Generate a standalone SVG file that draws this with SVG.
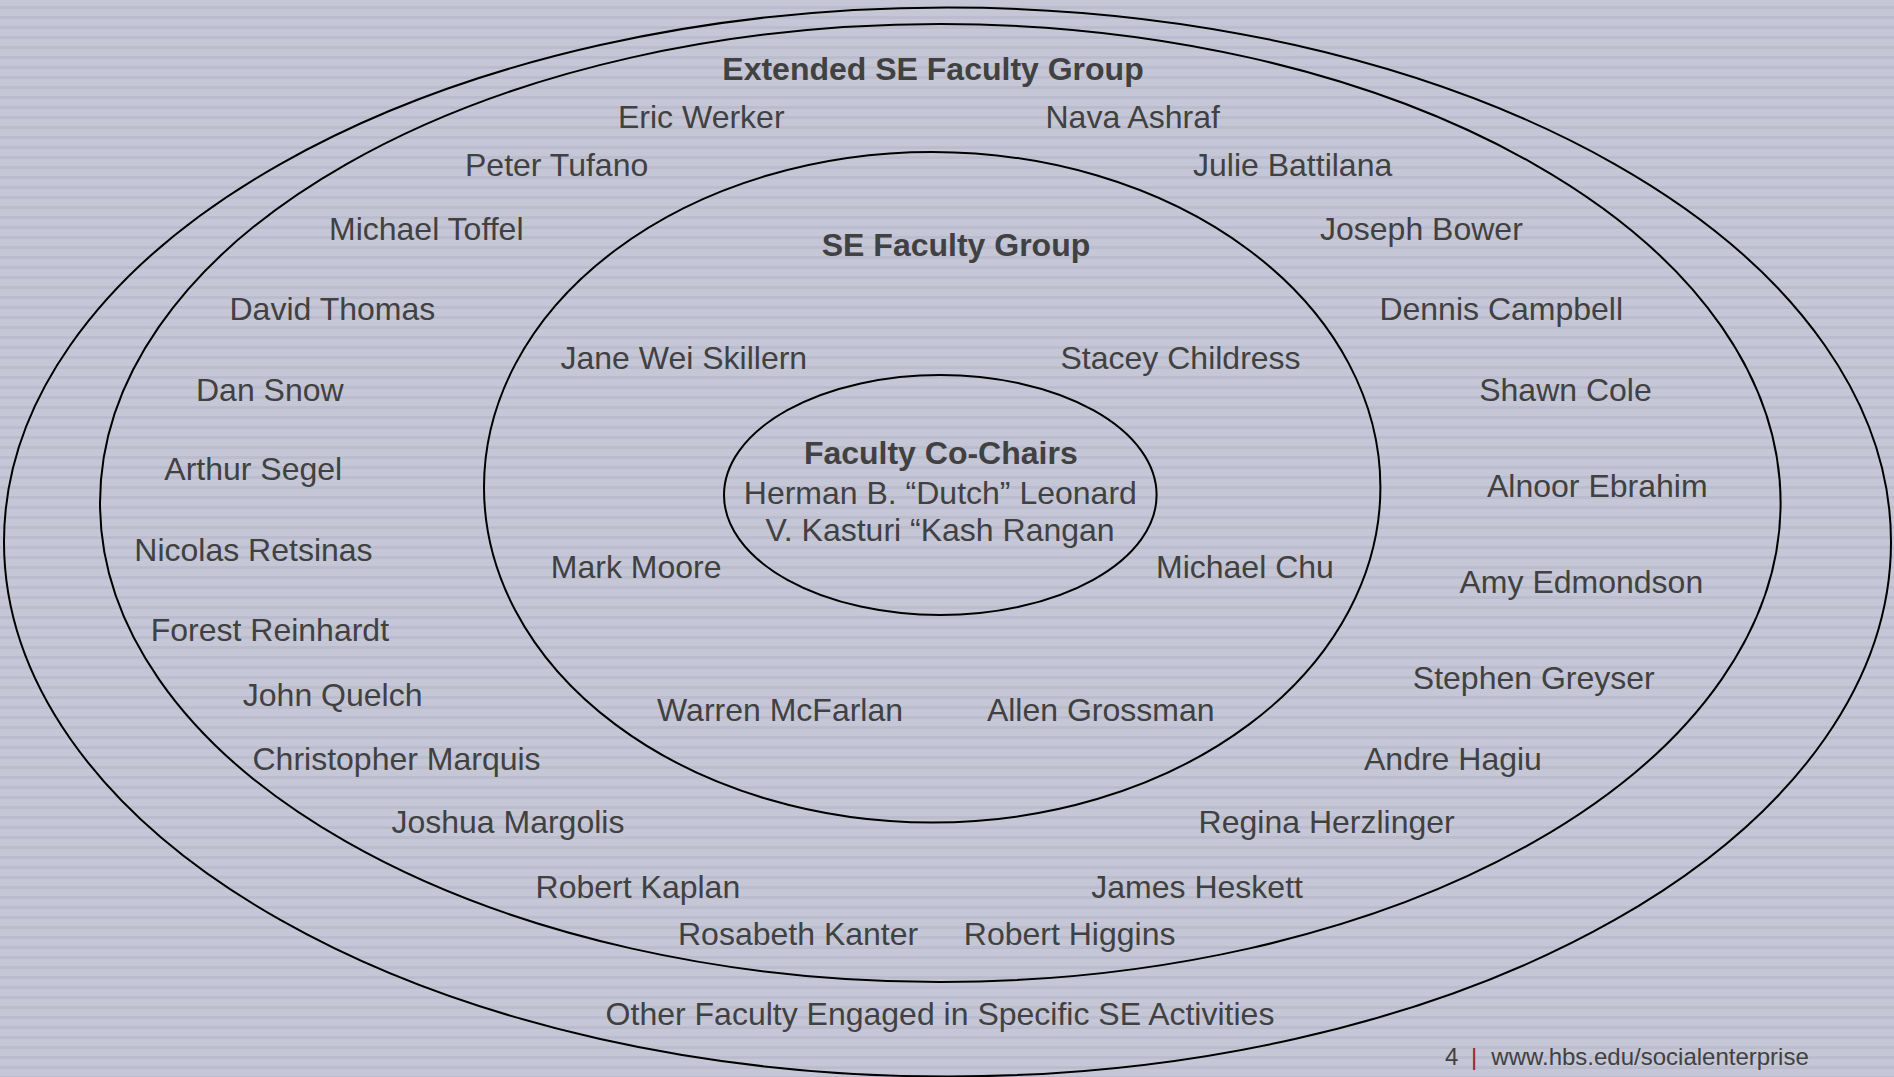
<svg xmlns="http://www.w3.org/2000/svg" width="1894" height="1077" viewBox="0 0 1894 1077">
  <defs>
    <pattern id="stripes" x="0" y="0" width="20" height="10" patternUnits="userSpaceOnUse">
      <rect x="0" y="0" width="20" height="10" fill="#c5c7d7"/>
      <rect x="0" y="6" width="20" height="3" fill="#bbbdce"/>
    </pattern>
  </defs>
  <style>
    .ring { fill: none; stroke: #000; stroke-width: 2; }
    .t { font-family: "Liberation Sans", Arial, sans-serif; font-size: 32px; fill: #414141; }
    .b { font-weight: bold; }
    .c { text-anchor: middle; }
    .f { font-family: "Liberation Sans", Arial, sans-serif; font-size: 24px; fill: #414141; }
  </style>
  <rect x="0" y="0" width="1894" height="1077" fill="url(#stripes)"/>

  <g id="ring-other">
    <ellipse class="ring" cx="947.5" cy="542" rx="943.5" ry="534.5"/>
    <text class="t c" x="940" y="1025">Other Faculty Engaged in Specific SE Activities</text>
  </g>

  <g id="ring-extended">
    <ellipse class="ring" cx="940.3" cy="503" rx="840.3" ry="479"/>
    <text class="t b c" x="933" y="80">Extended SE Faculty Group</text>
    <text class="t" x="618" y="128">Eric Werker</text>
    <text class="t" x="1045.5" y="128">Nava Ashraf</text>
    <text class="t" x="465" y="176">Peter Tufano</text>
    <text class="t" x="1193" y="176">Julie Battilana</text>
    <text class="t" x="329" y="240">Michael Toffel</text>
    <text class="t" x="1320" y="240">Joseph Bower</text>
    <text class="t" x="229.5" y="320">David Thomas</text>
    <text class="t" x="1379.4" y="320">Dennis Campbell</text>
    <text class="t" x="196" y="401">Dan Snow</text>
    <text class="t" x="1479.2" y="401">Shawn Cole</text>
    <text class="t" x="164.3" y="480.3">Arthur Segel</text>
    <text class="t" x="1487" y="496.7">Alnoor Ebrahim</text>
    <text class="t" x="134.3" y="561">Nicolas Retsinas</text>
    <text class="t" x="1459.5" y="593.3">Amy Edmondson</text>
    <text class="t" x="150.7" y="641">Forest Reinhardt</text>
    <text class="t" x="1412.8" y="688.6">Stephen Greyser</text>
    <text class="t" x="242.8" y="705.5">John Quelch</text>
    <text class="t" x="252.5" y="769.6">Christopher Marquis</text>
    <text class="t" x="1364" y="769.6">Andre Hagiu</text>
    <text class="t" x="391.4" y="832.7">Joshua Margolis</text>
    <text class="t" x="1198.6" y="832.7">Regina Herzlinger</text>
    <text class="t" x="535.6" y="897.7">Robert Kaplan</text>
    <text class="t" x="1091.3" y="897.7">James Heskett</text>
    <text class="t" x="678" y="945.3">Rosabeth Kanter</text>
    <text class="t" x="963.8" y="945.3">Robert Higgins</text>
  </g>

  <g id="ring-se">
    <ellipse class="ring" cx="932.2" cy="487.3" rx="448.2" ry="335.3"/>
    <text class="t b c" x="956" y="256.3">SE Faculty Group</text>
    <text class="t" x="560.5" y="368.5">Jane Wei Skillern</text>
    <text class="t" x="1060.5" y="368.5">Stacey Childress</text>
    <text class="t" x="550.8" y="577.5">Mark Moore</text>
    <text class="t" x="1156" y="577.5">Michael Chu</text>
    <text class="t" x="657.1" y="721">Warren McFarlan</text>
    <text class="t" x="986.9" y="721">Allen Grossman</text>
  </g>

  <g id="ring-cochairs">
    <ellipse class="ring" cx="940.3" cy="495" rx="216.3" ry="120"/>
    <text class="t b c" x="940.8" y="464.3">Faculty Co-Chairs</text>
    <text class="t c" x="940.3" y="503.7">Herman B. “Dutch” Leonard</text>
    <text class="t c" x="940" y="541">V. Kasturi “Kash Rangan</text>
  </g>

  <g id="footer">
    <text class="f" x="1445" y="1065">4</text>
    <text class="f" x="1471" y="1065" style="fill:#a3212b">|</text>
    <text class="f" x="1491.3" y="1065">www.hbs.edu/socialenterprise</text>
  </g>
</svg>
